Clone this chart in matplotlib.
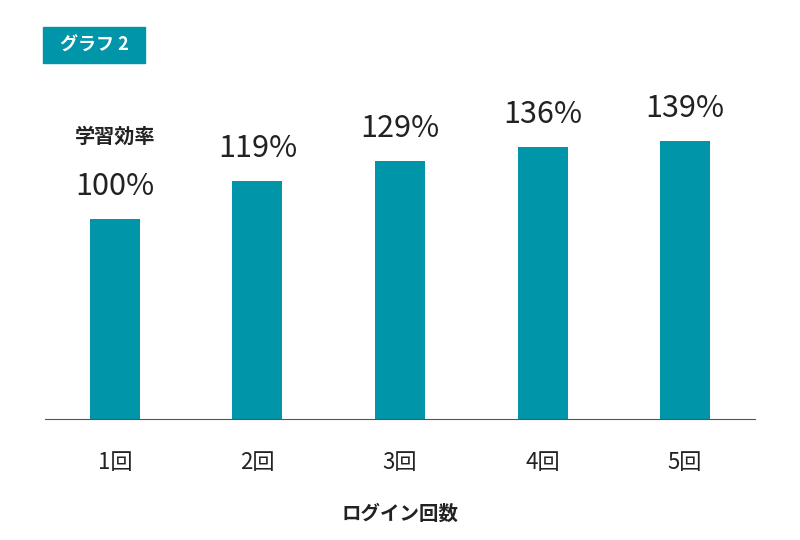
import matplotlib.pyplot as plt
from matplotlib.patches import Rectangle

plt.rcParams["font.family"] = "Noto Sans CJK JP"

categories = ["1回", "2回", "3回", "4回", "5回"]
values = [100, 119, 129, 136, 139]
labels = ["100%", "119%", "129%", "136%", "139%"]
color = "#0095a8"

fig = plt.figure(figsize=(8, 5.4), dpi=100)
ax = fig.add_axes([45 / 800, 1 - 419 / 540, 710 / 800, 300 / 540])
x = range(len(categories))
ax.bar(x, values, width=0.35, color=color)
ax.set_xlim(-0.49, 4.49)
ax.set_ylim(0, 150)
for i, (v, t) in enumerate(zip(values, labels)):
    ax.annotate(t, (i, v), xytext=(0, 12), textcoords="offset points",
                ha="center", va="bottom", fontsize=22, color="#222222")
ax.annotate("学習効率", (0, values[0]), xytext=(0, 52), textcoords="offset points",
            ha="center", va="bottom", fontsize=14.5, fontweight="bold", color="#222222")

for s in ["top", "right", "left"]:
    ax.spines[s].set_visible(False)
ax.spines["bottom"].set_color("#555555")
ax.set_yticks([])
ax.set_xticks(list(x))
ax.set_xticklabels(categories, fontsize=16, color="#222222")
ax.tick_params(axis="x", length=0, pad=23)
ax.set_xlabel("ログイン回数", fontsize=14, fontweight="bold", labelpad=22, color="#222222")

fig.patches.append(Rectangle((43 / 800, 1 - 63 / 540), 102 / 800, 36 / 540,
                             transform=fig.transFigure, color=color))
fig.text(94 / 800, 1 - 45 / 540, "グラフ 2", ha="center", va="center",
         fontsize=13, fontweight="bold", color="white")

fig.savefig("out.png", dpi=100)
